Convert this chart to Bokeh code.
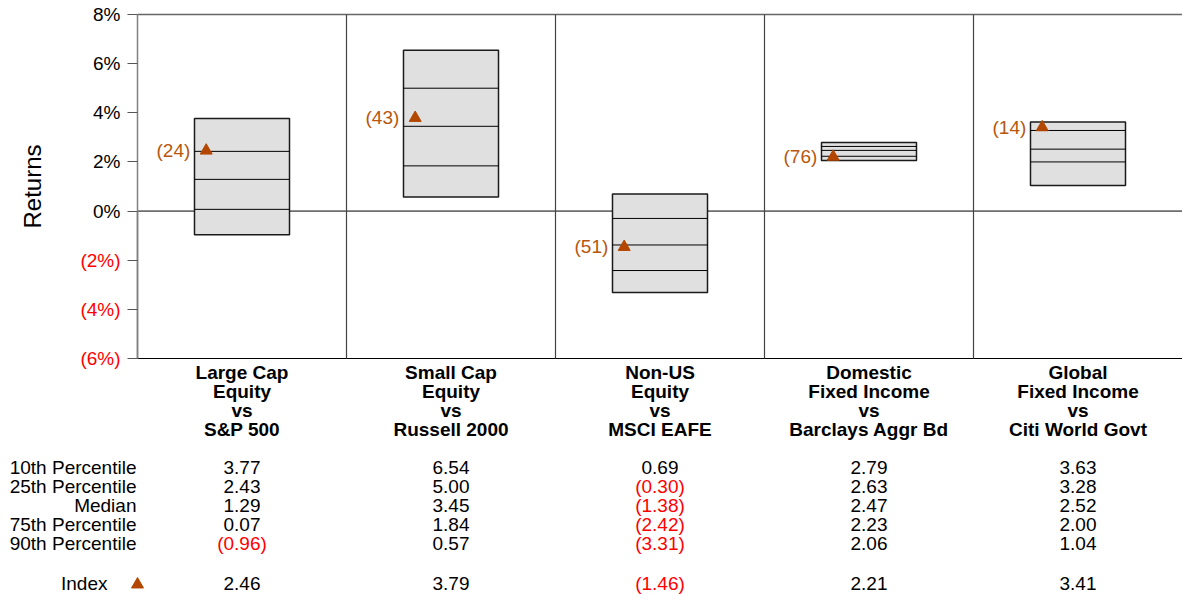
from bokeh.plotting import figure
from bokeh.models import Range1d, LinearAxis, FixedTicker, PrintfTickFormatter
from bokeh.embed import file_html
from bokeh.resources import INLINE
from bokeh.core.properties import value

# ---------------- data ----------------
categories = [
    "Large Cap\nEquity\nvs\nS&P 500",
    "Small Cap\nEquity\nvs\nRussell 2000",
    "Non-US\nEquity\nvs\nMSCI EAFE",
    "Domestic\nFixed Income\nvs\nBarclays Aggr Bd",
    "Global\nFixed Income\nvs\nCiti World Govt",
]
p10 = [3.77, 6.54, 0.69, 2.79, 3.63]
p25 = [2.43, 5.00, -0.30, 2.63, 3.28]
median = [1.29, 3.45, -1.38, 2.47, 2.52]
p75 = [0.07, 1.84, -2.42, 2.23, 2.00]
p90 = [-0.96, 0.57, -3.31, 2.06, 1.04]
index_vals = [2.46, 3.79, -1.46, 2.21, 3.41]
index_rank = [24, 43, 51, 76, 14]
row_labels = ["10th Percentile", "25th Percentile", "Median", "75th Percentile", "90th Percentile"]
pos_ticks = [0, 2, 4, 6, 8]
neg_ticks = [-6, -4, -2]

# ---------------- layout constants ----------------
FONT = "Liberation Sans"
FS = "19px"
RED = "#FF0000"
MARK = "#B34700"
RANKC = "#B8560F"
W, H = 1182, 594
TOP_PX = 14.0          # pixel row of the 8% line
COLW = 209.0
LEFT_PX = 137.0
YMAX, YMIN = 8, -6
PXPER = (358 - TOP_PX) / 14.0
ytop = YMAX + TOP_PX / PXPER
ybottom = YMAX - (H - TOP_PX) / PXPER

p = figure(width=W, height=H, output_backend="svg", toolbar_location=None,
           x_range=Range1d(-LEFT_PX / COLW, (W - LEFT_PX) / COLW),
           y_range=Range1d(ybottom, ytop),
           x_axis_type=None, y_axis_type=None,
           min_border_left=0, min_border_right=0, min_border_top=0, min_border_bottom=0)
p.outline_line_color = None
p.xgrid.visible = False
p.ygrid.visible = False
p.extra_y_ranges = {"tbl": Range1d(H, 0)}

# y axes (black positive, red negative)
ax1 = LinearAxis(fixed_location=0, ticker=FixedTicker(ticks=pos_ticks), bounds=(YMIN, YMAX),
                 formatter=PrintfTickFormatter(format="%d%%"), axis_label="Returns")
ax2 = LinearAxis(fixed_location=0, ticker=FixedTicker(ticks=neg_ticks), bounds=(YMIN, 0),
                 major_label_overrides={t: "(%d%%)" % abs(t) for t in neg_ticks})
for ax, col in ((ax1, "black"), (ax2, RED)):
    ax.axis_line_color = "#808080"
    ax.axis_line_width = 1.5
    ax.major_tick_line_color = "#555555"
    ax.major_tick_out = 10
    ax.major_tick_in = 0
    ax.minor_tick_line_color = None
    ax.major_label_standoff = 7
    ax.major_label_text_font = FONT
    ax.major_label_text_font_size = FS
    ax.major_label_text_color = col
ax1.axis_label_text_font = FONT
ax1.axis_label_text_font_size = "24px"
ax1.axis_label_text_font_style = "normal"
ax1.axis_label_text_color = "black"
ax1.axis_label_standoff = 44
p.add_layout(ax1, "left")
p.add_layout(ax2, "left")

n = len(categories)
centers = [i + 0.5 for i in range(n)]

# frame lines
p.segment(x0=[0, 0, 0], y0=[YMAX, 0, YMIN], x1=[n, n, n], y1=[YMAX, 0, YMIN],
          line_color=["#666666", "black", "black"], line_width=[1.5, 1, 1.2])
p.segment(x0=list(range(1, n)), y0=[YMIN] * (n - 1), x1=list(range(1, n)), y1=[YMAX] * (n - 1),
          line_color="#444444", line_width=1.2)

# boxes
half = 0.2273
lefts = [c - half for c in centers]
rights = [c + half for c in centers]
p.quad(left=lefts, right=rights, top=p10, bottom=p90,
       fill_color="#E0E0E0", line_color="#1A1A1A", line_width=1.5)
for arr in (p25, median, p75):
    p.segment(x0=lefts, y0=arr, x1=rights, y1=arr, line_color="black", line_width=1)

# index markers and ranks
p.scatter(x=[l + 0.056 for l in lefts], y=index_vals, marker="triangle", size=12,
          fill_color=MARK, line_color=MARK)
p.text(x=[l - 0.02 for l in lefts], y=index_vals, text=["(%d)" % r for r in index_rank],
       text_align="right", text_baseline="middle", text_font=value(FONT),
       text_font_size=FS, text_color=RANKC)

# headers
hx, hy, ht = [], [], []
for c, cat in zip(centers, categories):
    for j, line in enumerate(cat.split("\n")):
        hx.append(c); hy.append(372 + 18.9 * j); ht.append(line)
p.text(x=hx, y=hy, text=ht, y_range_name="tbl", text_align="center", text_baseline="middle",
       text_font=value(FONT), text_font_size=FS, text_font_style="bold", text_color="black")

# table
def fmt(v):
    return "(%.2f)" % abs(v) if v < 0 else "%.2f" % v

rows = [p10, p25, median, p75, p90]
tx, ty, tt, tc = [], [], [], []
for r, arr in enumerate(rows):
    for c, v in zip(centers, arr):
        tx.append(c); ty.append(467 + 19 * r); tt.append(fmt(v)); tc.append(RED if v < 0 else "black")
for c, v in zip(centers, index_vals):
    tx.append(c); ty.append(583); tt.append(fmt(v)); tc.append(RED if v < 0 else "black")
p.text(x=tx, y=ty, text=tt, text_color=tc, y_range_name="tbl", text_align="center",
       text_baseline="middle", text_font=value(FONT), text_font_size=FS)

p.text(x=[-0.005] * len(row_labels), y=[467 + 19 * r for r in range(len(row_labels))], text=row_labels,
       y_range_name="tbl", text_align="right", text_baseline="middle",
       text_font=value(FONT), text_font_size=FS, text_color="black")
p.text(x=[-0.1435], y=[583], text=["Index"], y_range_name="tbl", text_align="right",
       text_baseline="middle", text_font=value(FONT), text_font_size=FS, text_color="black")
p.scatter(x=[0], y=[584], y_range_name="tbl", marker="triangle", size=12,
          fill_color=MARK, line_color=MARK)

open("out.html", "w").write(file_html(p, INLINE))
